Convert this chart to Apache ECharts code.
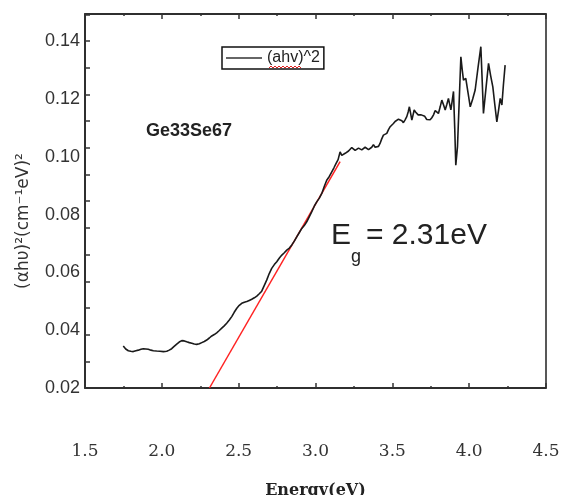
<!DOCTYPE html>
<html>
<head>
<meta charset="utf-8">
<script src="https://cdn.jsdelivr.net/npm/echarts@6/dist/echarts.min.js"></script>
<style>html,body{margin:0;padding:0;background:#fff}#c{width:561px;height:495px}</style>
</head>
<body>
<div id="c"></div>
<script>
// Photon energy (eV)
const energy = [1.749,1.765,1.782,1.798,1.814,1.831,1.847,1.864,1.880,1.896,1.912,1.929,1.945,1.966,1.988,2.010,2.032,2.048,2.064,2.080,2.097,2.113,2.130,2.146,2.162,2.179,2.195,2.211,2.227,2.244,2.260,2.276,2.292,2.309,2.325,2.341,2.357,2.374,2.390,2.406,2.422,2.439,2.455,2.471,2.488,2.504,2.520,2.537,2.553,2.569,2.585,2.602,2.618,2.634,2.650,2.667,2.683,2.699,2.715,2.732,2.748,2.765,2.781,2.797,2.813,2.830,2.846,2.862,2.878,2.895,2.911,2.927,2.943,2.960,2.976,2.992,3.008,3.025,3.041,3.057,3.073,3.090,3.106,3.120,3.134,3.147,3.160,3.171,3.182,3.193,3.204,3.215,3.225,3.236,3.247,3.258,3.269,3.280,3.290,3.301,3.312,3.323,3.334,3.345,3.355,3.366,3.377,3.388,3.399,3.410,3.420,3.431,3.442,3.453,3.464,3.475,3.486,3.497,3.507,3.518,3.529,3.540,3.551,3.562,3.572,3.583,3.594,3.603,3.611,3.619,3.627,3.635,3.642,3.651,3.659,3.668,3.677,3.688,3.698,3.711,3.724,3.735,3.746,3.757,3.768,3.779,3.790,3.800,3.811,3.822,3.833,3.844,3.855,3.865,3.873,3.881,3.890,3.898,3.906,3.913,3.924,3.935,3.946,3.955,3.963,3.978,3.993,4.007,4.023,4.039,4.058,4.076,4.085,4.093,4.110,4.126,4.140,4.154,4.167,4.180,4.191,4.202,4.213,4.223,4.234];
// (alpha h nu)^2 values
const ahv2 = [0.0345,0.0335,0.0329,0.0327,0.0326,0.0329,0.0331,0.0334,0.0336,0.0335,0.0334,0.0331,0.0329,0.0328,0.0327,0.0326,0.0327,0.0331,0.0336,0.0344,0.0352,0.0359,0.0364,0.0363,0.0360,0.0357,0.0355,0.0352,0.0351,0.0353,0.0357,0.0361,0.0366,0.0373,0.0380,0.0385,0.0391,0.0399,0.0407,0.0415,0.0424,0.0435,0.0447,0.0462,0.0476,0.0486,0.0493,0.0497,0.0499,0.0503,0.0507,0.0512,0.0518,0.0526,0.0535,0.0555,0.0574,0.0596,0.0614,0.0627,0.0637,0.0650,0.0660,0.0668,0.0677,0.0684,0.0695,0.0708,0.0723,0.0738,0.0752,0.0762,0.0775,0.0793,0.0810,0.0829,0.0844,0.0857,0.0873,0.0897,0.0919,0.0932,0.0948,0.0962,0.0977,0.0990,0.1017,0.1005,0.1006,0.1012,0.1008,0.1020,0.1023,0.1032,0.1026,0.1022,0.1018,0.1030,0.1036,0.1024,0.1022,0.1033,0.1038,0.1025,0.1020,0.1033,0.1042,0.1033,0.1027,0.1036,0.1046,0.1062,0.1075,0.1079,0.1081,0.1094,0.1104,0.1110,0.1115,0.1122,0.1127,0.1130,0.1133,0.1125,0.1118,0.1128,0.1139,0.1155,0.1173,0.1150,0.1127,0.1145,0.1162,0.1155,0.1150,0.1145,0.1139,0.1145,0.1150,0.1140,0.1129,0.1125,0.1128,0.1135,0.1145,0.1160,0.1155,0.1150,0.1172,0.1196,0.1180,0.1162,0.1182,0.1202,0.1182,0.1162,0.1195,0.1226,0.1100,0.0971,0.1035,0.1190,0.1346,0.1300,0.1265,0.1271,0.1220,0.1173,0.1200,0.1231,0.1310,0.1381,0.1260,0.1150,0.1240,0.1323,0.1280,0.1242,0.1180,0.1121,0.1160,0.1202,0.1179,0.1250,0.1317];
// Linear fit (Tauc extrapolation)
const fitX = [2.31, 3.16];
const fitY = [0.02, 0.0983];
// Axis settings
const xTicks = [1.5, 2.0, 2.5, 3.0, 3.5, 4.0, 4.5];
const yTicks = [0.02, 0.04, 0.06, 0.08, 0.10, 0.12, 0.14];
const seriesName = '(ahv)^2';

const chart = echarts.init(document.getElementById('c'), null, {renderer: 'canvas'});
const curve = energy.map((e, i) => [e, ahv2[i]]);
const fit = fitX.map((e, i) => [e, fitY[i]]);
const frame = '#222';

// red spell-check squiggle under "ahv" in the legend (decoration)
const sq = [];
for (let i = 0; i <= 16; i++) sq.push([269 + i * 2, 67 + (i % 2 ? -1 : 1)]);

chart.setOption({
  animation: false,
  backgroundColor: '#fff',
  grid: {left: 85, right: 15, top: 14, bottom: 107, containLabel: false, outerBoundsMode: 'none',
         show: true, borderColor: frame, borderWidth: 1.5, backgroundColor: 'transparent'},
  legend: {
    data: [seriesName], left: 222, top: 47, padding: [3, 4, 3, 4],
    borderColor: '#111', borderWidth: 1.5, itemWidth: 36, itemHeight: 2,
    icon: 'rect', itemStyle: {color: '#666'},
    textStyle: {fontFamily: 'Liberation Sans', fontSize: 16, color: '#222', padding: [0, 3, 0, 0]}
  },
  xAxis: [{
    type: 'value', min: xTicks[0], max: xTicks[xTicks.length - 1], interval: 0.5, position: 'bottom',
    axisLine: {show: true, lineStyle: {color: frame, width: 1.5}},
    axisTick: {show: true, inside: true, length: 5, lineStyle: {color: '#333', width: 1.5}},
    minorTick: {show: true, splitNumber: 2, length: 2, lineStyle: {color: '#333', width: 1.5}},
    splitLine: {show: false},
    axisLabel: {margin: 55, fontFamily: 'DejaVu Serif', fontSize: 17, color: '#333', formatter: v => v.toFixed(1)},
    name: 'Energy(eV)', nameLocation: 'middle', nameGap: 95,
    nameTextStyle: {fontFamily: 'DejaVu Serif', fontWeight: 'bold', fontSize: 16, color: '#222'}
  }, {
    type: 'value', min: xTicks[0], max: xTicks[xTicks.length - 1], interval: 0.5, position: 'top',
    axisLine: {show: true, lineStyle: {color: frame, width: 1.5}},
    axisTick: {show: true, inside: true, length: 5, lineStyle: {color: '#333', width: 1.5}},
    minorTick: {show: true, splitNumber: 2, length: 2, lineStyle: {color: '#333', width: 1.5}},
    splitLine: {show: false}, axisLabel: {show: false}
  }],
  yAxis: [{
    type: 'value', min: yTicks[0], max: 0.1494, interval: 0.02, position: 'left',
    axisLine: {show: true, lineStyle: {color: frame, width: 1.5}},
    axisTick: {show: false}, splitLine: {show: false},
    axisLabel: {margin: 5, showMaxLabel: false, fontFamily: 'Liberation Sans', fontSize: 18, color: '#333', formatter: v => v.toFixed(2)}
  }, {
    type: 'value', min: yTicks[0], max: 0.1494, interval: 0.12 / 13, position: 'left',
    axisLine: {show: false}, splitLine: {show: false}, axisLabel: {show: false},
    axisTick: {show: true, inside: true, length: 5, lineStyle: {color: '#333', width: 1.5}}
  }],
  series: [{
    name: seriesName, type: 'line', data: curve, symbol: 'none', xAxisIndex: 0, yAxisIndex: 0,
    lineStyle: {color: '#1a1a1a', width: 1.6}, itemStyle: {color: '#1a1a1a'}, z: 3
  }, {
    name: 'fit', type: 'line', data: fit, symbol: 'none', xAxisIndex: 0, yAxisIndex: 0,
    lineStyle: {color: '#ff2222', width: 1.5}, itemStyle: {color: '#ff2222'}, z: 2
  }],
  graphic: [
    {type: 'text', x: 24, y: 221, rotation: Math.PI / 2,
     style: {text: '(\u03b1h\u03c5)\u00b2(cm\u207b\u00b9eV)\u00b2', fontFamily: 'DejaVu Sans', fontSize: 17, fill: '#333', textAlign: 'center', textVerticalAlign: 'middle'}},
    {type: 'text', left: 146, top: 122, style: {text: 'Ge33Se67', fontFamily: 'Liberation Sans', fontWeight: 'bold', fontSize: 18, fill: '#222'}},
    {type: 'text', x: 331, y: 251, style: {text: 'E', fontFamily: 'Liberation Sans', fontSize: 30, fill: '#222', textVerticalAlign: 'bottom'}},
    {type: 'text', x: 351, y: 266, style: {text: 'g', fontFamily: 'Liberation Sans', fontSize: 18, fill: '#222', textVerticalAlign: 'bottom'}},
    {type: 'text', x: 366, y: 251, style: {text: '= 2.31eV', fontFamily: 'Liberation Sans', fontSize: 30, fill: '#222', textVerticalAlign: 'bottom'}},
    {type: 'polyline', shape: {points: sq}, style: {stroke: '#e02020', lineWidth: 1, fill: null}, z: 100}
  ]
});
</script>
</body>
</html>
